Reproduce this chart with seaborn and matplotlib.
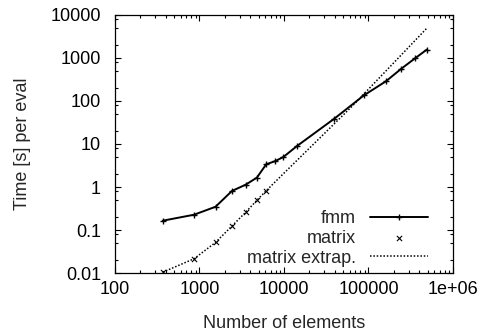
import numpy as np
import pandas as pd
import seaborn as sns
import matplotlib.pyplot as plt
from matplotlib.ticker import LogLocator, NullFormatter, FixedLocator, FixedFormatter

# Values
fmm_n = [368, 863, 1550, 2425, 3514, 4776, 6166, 7870, 9860, 14290,
         39450, 88300, 160600, 245500, 356000, 490000]
fmm_t = [0.165, 0.227, 0.348, 0.81, 1.13, 1.65, 3.37, 4.0, 5.0, 9.0,
         38.8, 135, 286, 565, 980, 1560]

matrix_n = [368, 863, 1550, 2425, 3514, 4776, 6166]
matrix_t = [0.0105, 0.0215, 0.0516, 0.124, 0.258, 0.49, 0.82]

extrap_n = [368, 863, 1550, 2425, 3514, 4776, 6166, 10000, 64800, 490000]
extrap_t = [0.0105, 0.0215, 0.0516, 0.124, 0.258, 0.49, 0.82, 2.1, 77, 4900]

x_ticks = [100, 1000, 10000, 100000, 1000000]
x_labels = ['100', '1000', '10000', '100000', '1e+06']
y_ticks = [0.01, 0.1, 1, 10, 100, 1000, 10000]
y_labels = ['0.01', '0.1', '1', '10', '100', '1000', '10000']

fmm = pd.DataFrame({'n': fmm_n, 't': fmm_t})
matrix = pd.DataFrame({'n': matrix_n, 't': matrix_t})
extrap = pd.DataFrame({'n': extrap_n, 't': extrap_t})

sns.set_style('ticks')
plt.rcParams['font.family'] = ['Liberation Sans', 'DejaVu Sans']
fs = 13

fig = plt.figure(figsize=(4.85, 3.31), dpi=100)
ax = fig.add_axes([0.237, 0.175, 0.697, 0.78])

sns.lineplot(data=fmm, x='n', y='t', ax=ax, color='black', lw=1.4,
             marker='+', markersize=4, mew=1.0, mec='black', label='fmm',
             sort=False)
sns.scatterplot(data=matrix, x='n', y='t', ax=ax, color='black',
                marker='x', s=14, linewidth=0.8, label='matrix', zorder=4)
sns.lineplot(data=extrap, x='n', y='t', ax=ax, color='black', lw=1.1,
             linestyle=(0, (1, 1.2)), label='matrix extrap.', sort=False)

ax.set_xscale('log')
ax.set_yscale('log')
ax.set_xlim(100, 1e6)
ax.set_ylim(0.01, 10000)

ax.xaxis.set_major_locator(FixedLocator(x_ticks))
ax.xaxis.set_major_formatter(FixedFormatter(x_labels))
ax.xaxis.set_minor_locator(LogLocator(base=10, subs=np.arange(2, 10)))
ax.xaxis.set_minor_formatter(NullFormatter())
ax.yaxis.set_major_locator(FixedLocator(y_ticks))
ax.yaxis.set_major_formatter(FixedFormatter(y_labels))
ax.yaxis.set_minor_locator(LogLocator(base=10, subs=(2, 5, 8)))
ax.yaxis.set_minor_formatter(NullFormatter())

ax.tick_params(which='both', direction='in', top=True, right=True,
               color='black', width=0.8, labelsize=fs, labelcolor='black')
ax.tick_params(which='major', length=4)
ax.tick_params(axis='x', which='major', pad=6)
ax.tick_params(axis='y', which='major', pad=10)
ax.tick_params(which='minor', length=2)
for sp in ax.spines.values():
    sp.set_color('black')
    sp.set_linewidth(0.9)

ax.set_xlabel('Number of elements', fontsize=fs, labelpad=12)
ax.set_ylabel('Time [s] per eval', fontsize=fs, labelpad=14)

ax.legend(loc='lower right', bbox_to_anchor=(0.926, 0.025), frameon=False,
          markerfirst=False, fontsize=fs, handlelength=3.2,
          handletextpad=0.8, labelspacing=0.15, borderpad=0, borderaxespad=0)

fig.savefig('out.png', dpi=100)
